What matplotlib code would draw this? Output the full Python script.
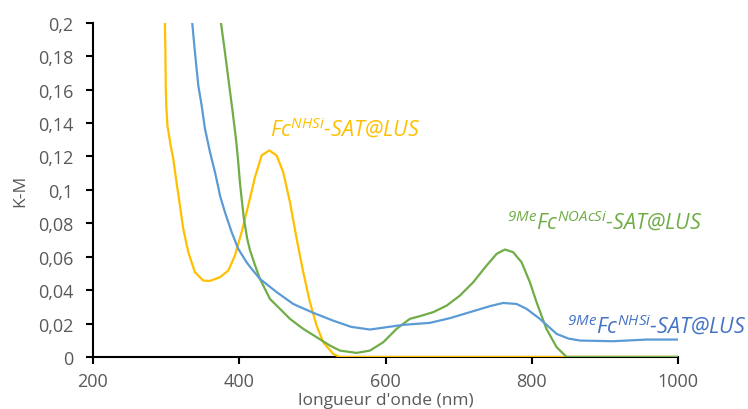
import numpy as np
import matplotlib
matplotlib.use('Agg')
import matplotlib.pyplot as plt
from matplotlib.ticker import FuncFormatter

plt.rcParams['font.family'] = ['Open Sans', 'DejaVu Sans']
plt.rcParams['mathtext.fontset'] = 'custom'
plt.rcParams['mathtext.it'] = 'Open Sans:italic'
plt.rcParams['mathtext.rm'] = 'Open Sans:italic'

# Fc(NHSi)-SAT@LUS (yellow)
x_y = [298.0, 298.4, 299.0, 299.5, 300.2, 301.8, 306.2, 309.8, 313.5, 318.9, 323.4, 330.3, 339.4, 350.8, 360, 373.6,
       385, 394.1, 403.3, 412.3, 421.5, 430.6, 441, 451.1, 460.1, 469.3, 478.5, 487.5, 496.6, 505.8, 514.8,
       528.5, 537, 1000]
k_y = [0.22, 0.2, 0.1825, 0.1625, 0.1505, 0.1385, 0.1266, 0.1186, 0.1066, 0.0906, 0.0767, 0.0627, 0.0507, 0.0457,
       0.0455, 0.0477, 0.0517, 0.0607, 0.0747, 0.0906, 0.1076, 0.1206, 0.1236, 0.1206, 0.1106, 0.0927, 0.0707,
       0.0507, 0.0328, 0.0187, 0.0088, 0.0018, 0.0, 0.0]

# 9MeFc(NHSi)-SAT@LUS (blue)
x_b = [333.5, 335.7, 339.4, 344, 348.6, 353.1, 360, 366.8, 371.3, 373.6, 380.4, 389.6, 398.6, 410, 414.6, 428.3,
       451.1, 473.8, 501.2, 528.5, 553, 578.7, 601.5, 624.2, 660.7, 688, 715.4, 742.7, 760.9, 779.2, 792.8,
       811, 834, 850, 866, 911, 957, 1000]
k_b = [0.21, 0.2, 0.1825, 0.1625, 0.1505, 0.1366, 0.1226, 0.1106, 0.1017, 0.0966, 0.0867, 0.0747, 0.0647, 0.0567,
       0.0540, 0.0467, 0.0388, 0.0317, 0.0264, 0.0217, 0.0180, 0.0164, 0.0178, 0.0192, 0.0204, 0.0232, 0.0268,
       0.0304, 0.0323, 0.0317, 0.0288, 0.0228, 0.0138, 0.0110, 0.0098, 0.0094, 0.0104, 0.0104]

# 9MeFc(NOAcSi)-SAT@LUS (green)
x_g = [373.5, 375, 380.4, 386.3, 391, 395.5, 398.6, 401, 403.3, 406.4, 410.9, 414.6, 421.5, 428.3, 442, 455.6,
       469.3, 487.5, 505.8, 524, 537.6, 560.5, 578.7, 596.9, 615.1, 633.3, 647, 665.2, 683.5, 701.7, 719.9,
       738.2, 751.9, 763.2, 774.5, 786, 797.4, 806.5, 820, 834, 847.5, 1000]
k_g = [0.21, 0.2, 0.1825, 0.1625, 0.1466, 0.1306, 0.1166, 0.1040, 0.0946, 0.0827, 0.0707, 0.0640, 0.0550, 0.0467,
       0.0347, 0.0288, 0.0228, 0.0168, 0.0118, 0.0068, 0.0038, 0.0024, 0.0038, 0.0088, 0.0168, 0.0228, 0.0244,
       0.0268, 0.0307, 0.0367, 0.0447, 0.0547, 0.0617, 0.0643, 0.0627, 0.0567, 0.0447, 0.0328, 0.0168, 0.0058,
       0.0, 0.0]

yticks = [0, 0.02, 0.04, 0.06, 0.08, 0.1, 0.12, 0.14, 0.16, 0.18, 0.2]
xticks = [200, 400, 600, 800, 1000]

fig = plt.figure(figsize=(7.48, 4.10), dpi=100)
ax = fig.add_axes([0.1243, 0.127, 0.7822, 0.815])

ax.plot(x_y, k_y, color='#FFC000', lw=1.6, zorder=3)
ax.plot(x_g, k_g, color='#70AD47', lw=1.6, zorder=4)
ax.plot(x_b, k_b, color='#5B9BD5', lw=1.6, zorder=5)

ax.set_xlim(200, 1000)
ax.set_ylim(0, 0.2)
ax.set_xticks(xticks)
ax.set_yticks(yticks)
ax.yaxis.set_major_formatter(FuncFormatter(lambda v, p: ('%g' % round(v, 2)).replace('.', ',')))

for s in ['top', 'right']:
    ax.spines[s].set_visible(False)
for s in ['left', 'bottom']:
    ax.spines[s].set_linewidth(1.5)
    ax.spines[s].set_color('black')
    ax.spines[s].set_zorder(2)
ax.tick_params(axis='both', direction='out', length=5, width=1.5, color='black',
               labelcolor='#595959', labelsize=13)
ax.tick_params(axis='x', pad=6)
ax.tick_params(axis='y', pad=9)

ax.set_ylabel('K-M', color='#595959', fontsize=12.5)
ax.yaxis.set_label_coords(-0.125, 0.5)
ax.yaxis.label.set_va('center')
ax.set_xlabel("longueur d'onde (nm)", color='#595959', fontsize=12.5)
ax.xaxis.set_label_coords(0.5, -0.129)
ax.xaxis.label.set_va('center')

ax.text(442, 0.1325, r'$Fc^{NHSi}$-SAT@LUS', color='#FFC000', fontsize=15.5, style='italic')
ax.text(766, 0.0765, r'${}^{9Me}Fc^{NOAcSi}$-SAT@LUS', color='#70AD47', fontsize=15.5, style='italic')
ax.text(848, 0.0145, r'${}^{9Me}Fc^{NHSi}$-SAT@LUS', color='#4472C4', fontsize=15.5, style='italic',
        clip_on=False)

fig.savefig('out.png', dpi=100)
